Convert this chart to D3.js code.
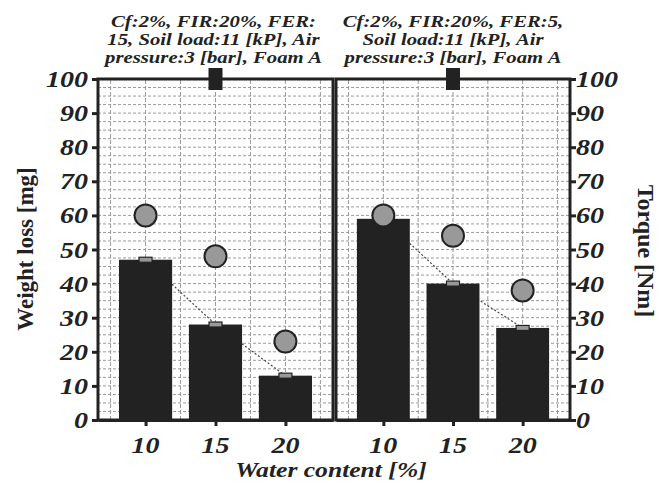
<!DOCTYPE html>
<html><head><meta charset="utf-8">
<script src="https://cdn.jsdelivr.net/npm/d3@7"></script>
<style>
html,body{margin:0;padding:0;background:#fff;}
svg{display:block;}
text{font-family:"Liberation Serif","Times New Roman",serif;fill:#222;}
</style></head>
<body>
<svg id="chart" width="668" height="484"></svg>
<script>
// ---- data ----
const categories = [10, 15, 20];
const weightLossA = [47, 28, 13];
const torqueA = [60, 48, 23];
const weightLossB = [59, 40, 27];
const torqueB = [60, 54, 38];
const yTicks = [0, 10, 20, 30, 40, 50, 60, 70, 80, 90, 100];
const titleA = ["Cf:2%, FIR:20%, FER:", "15, Soil load:11 [kP], Air", "pressure:3 [bar], Foam A"];
const titleB = ["Cf:2%, FIR:20%, FER:5,", "Soil load:11 [kP], Air", "pressure:3 [bar], Foam A"];
const yLabelLeft = "Weight loss [mg]";
const yLabelRight = "Torque [Nm]";
const xLabel = "Water content [%]";

const SX = 1.22; // horizontal text stretch
const svg = d3.select("#chart");
const y = d3.scaleLinear().domain([0, 100]).range([420, 79]);
const panels = [
  {range: [98, 333], wl: weightLossA, tq: torqueA, title: titleA},
  {range: [336, 570], wl: weightLossB, tq: torqueB, title: titleB}
];
const barW = 3.8; // in x units
const gridX = [7.5, 10, 12.5, 15, 17.5, 20, 22.5];
const gridY = d3.range(2.5, 100, 2.5);

function txt(x, yy, s, opts) {
  return svg.append("text")
    .attr("transform", `translate(${x},${yy}) scale(${opts.sx || SX},1)`)
    .attr("text-anchor", opts.anchor || "middle")
    .attr("font-size", opts.size || 17)
    .attr("font-weight", opts.weight || "bold")
    .attr("font-style", opts.style || "italic")
    .text(s);
}

panels.forEach((p, pi) => {
  const x = d3.scaleLinear().domain([6.6, 23.4]).range(p.range);
  const g = svg.append("g");
  // grid
  g.selectAll(".gy").data(gridY).join("line")
    .attr("x1", p.range[0]).attr("x2", p.range[1])
    .attr("y1", d => y(d)).attr("y2", d => y(d))
    .attr("stroke", "#8f8f8f").attr("stroke-width", 0.9).attr("stroke-dasharray", "3,2");
  g.selectAll(".gx").data(gridX).join("line")
    .attr("x1", d => x(d)).attr("x2", d => x(d))
    .attr("y1", y(0)).attr("y2", y(100))
    .attr("stroke", "#8f8f8f").attr("stroke-width", 0.9).attr("stroke-dasharray", "4,2");
  // trend line (dotted) behind bars
  const line = d3.line().x((d, i) => x(categories[i])).y(d => y(d));
  g.append("path").datum(p.wl).attr("d", line)
    .attr("fill", "none").attr("stroke", "#444").attr("stroke-width", 1.2).attr("stroke-dasharray", "2,2");
  // bars
  g.selectAll(".bar").data(p.wl).join("rect")
    .attr("x", (d, i) => x(categories[i] - barW / 2))
    .attr("width", (d, i) => x(categories[i] + barW / 2) - x(categories[i] - barW / 2))
    .attr("y", d => y(d)).attr("height", d => y(0) - y(d))
    .attr("fill", "#222");
  // error caps
  g.selectAll(".cap").data(p.wl).join("rect")
    .attr("x", (d, i) => x(categories[i]) - 6.5).attr("width", 13)
    .attr("y", d => y(d) - 2.5).attr("height", 5)
    .attr("fill", "#999").attr("stroke", "#222").attr("stroke-width", 1.2);
  // torque circles
  g.selectAll(".dot").data(p.tq).join("circle")
    .attr("cx", (d, i) => x(categories[i])).attr("cy", d => y(d)).attr("r", 11)
    .attr("fill", "#999").attr("stroke", "#222").attr("stroke-width", 2);
  // frame
  g.append("rect").attr("x", p.range[0]).attr("y", y(100))
    .attr("width", p.range[1] - p.range[0]).attr("height", y(0) - y(100))
    .attr("fill", "none").attr("stroke", "#222").attr("stroke-width", 3);
  // top marker
  g.append("rect").attr("x", x(15) - 7).attr("y", y(100) - 11).attr("width", 14).attr("height", 22).attr("fill", "#222");
  // x axis ticks
  const xa = d3.axisBottom(x).tickValues(categories).tickSize(6).tickSizeOuter(0).tickFormat(d3.format("d"));
  const ga = svg.append("g").attr("transform", `translate(0,${y(0)})`).call(xa);
  ga.select(".domain").attr("stroke", "#222").attr("stroke-width", 3);
  ga.selectAll(".tick line").attr("stroke", "#222").attr("stroke-width", 3);
  ga.selectAll(".tick text").remove();
  categories.forEach(c => txt(x(c), 453, String(c), {size: 23}));
  // title
  p.title.forEach((s, i) => txt((p.range[0] + p.range[1]) / 2 + (pi === 0 ? -2 : 0), 27 + i * 18, s, {size: 17}));
});

// y axes
const yl = d3.axisLeft(y).tickValues(yTicks).tickSize(6).tickSizeOuter(0).tickFormat("");
const gl = svg.append("g").attr("transform", "translate(98,0)").call(yl);
gl.select(".domain").remove();
gl.selectAll(".tick line").attr("stroke", "#222").attr("stroke-width", 3);
yTicks.forEach(v => txt(88, y(v) + 8, String(v), {size: 23, anchor: "end"}));

const yr = d3.axisRight(y).tickValues(yTicks).tickSize(6).tickSizeOuter(0).tickFormat("");
const gr = svg.append("g").attr("transform", "translate(570,0)").call(yr);
gr.select(".domain").remove();
gr.selectAll(".tick line").attr("stroke", "#222").attr("stroke-width", 3);
yTicks.forEach(v => txt(576, y(v) + 8, String(v), {size: 23, anchor: "start"}));

// axis labels
svg.append("text").attr("transform", "translate(33,249) rotate(-90)")
  .attr("text-anchor", "middle").attr("font-size", 23).attr("font-weight", "bold").text(yLabelLeft);
svg.append("text").attr("transform", "translate(638,251) rotate(90)")
  .attr("text-anchor", "middle").attr("font-size", 24).attr("font-weight", "bold").text(yLabelRight);
txt(331, 477, xLabel, {size: 21});
</script>
</body></html>
